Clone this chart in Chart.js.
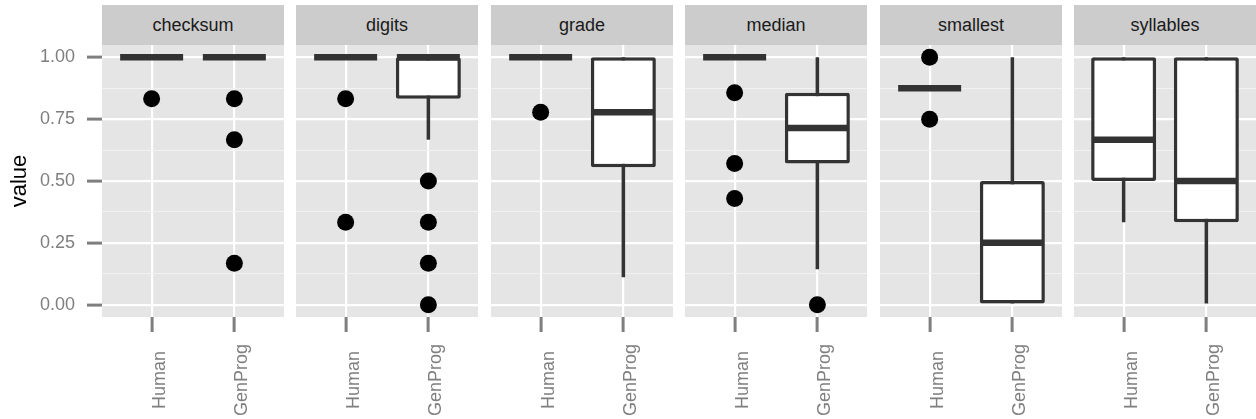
<!DOCTYPE html>
<html lang="en">
<head>
<meta charset="UTF-8">
<title>Human vs GenProg</title>
<script src="https://cdn.jsdelivr.net/npm/chart.js"></script>
<style>
  body { margin: 0; background: #ffffff; font-family: "Liberation Sans", Arial, sans-serif; }
  #fig { position: relative; width: 1256px; height: 419px; overflow: hidden; }
  .strip {
    position: absolute; top: 5px; height: 40px; line-height: 40px;
    background: #cccccc; color: #1a1a1a; font-size: 18px; text-align: center;
  }
  canvas { position: absolute; top: 45px; }
</style>
</head>
<body>
<div id="fig"></div>
<script>
// facets and groups
const panels = ['checksum', 'digits', 'grade', 'median', 'smallest', 'syllables'];
const categories = ['Human', 'GenProg'];

// box stats per facet, [Human, GenProg]
const q1 = [[1, 1], [1, 0.833], [1, 0.556], [1, 0.571], [0.875, 0], [0.5, 0.333]];
const med = [[1, 1], [1, 1], [1, 0.778], [1, 0.714], [0.875, 0.25], [0.667, 0.5]];
const q3 = [[1, 1], [1, 1], [1, 1], [1, 0.857], [0.875, 0.5], [1, 1]];
const whiskerLow = [[1, 1], [1, 0.667], [1, 0.111], [1, 0.143], [0.875, 0], [0.333, 0]];
const whiskerHigh = [[1, 1], [1, 1], [1, 1], [1, 1], [0.875, 1], [1, 1]];
const outliers = [
  [[0.833], [0.833, 0.667, 0.167]],
  [[0.833, 0.333], [0.5, 0.333, 0.167, 0]],
  [[0.778], []],
  [[0.857, 0.571, 0.429], [0]],
  [[1, 0.75], []],
  [[], []]
];

// y axis ticks
const yTicks = [0, 0.25, 0.5, 0.75, 1];
const yMinor = [0.125, 0.375, 0.625, 0.875];

// layout (pixels)
const panelLeft = [102, 296, 491, 685, 880, 1074];
const panelWidth = 182;
const axisWidth = 102;
const canvasHeight = 374;
const xAxisHeight = 102;

const fig = document.getElementById('fig');

// grey panel background
const panelBg = {
  id: 'panelBg',
  beforeDraw(chart) {
    const a = chart.chartArea;
    chart.ctx.save();
    chart.ctx.fillStyle = '#e5e5e5';
    chart.ctx.fillRect(a.left, a.top, a.right - a.left, a.bottom - a.top);
    chart.ctx.restore();
  }
};

// vertical x labels, centred under each tick like ggplot
const xLabels = {
  id: 'xLabels',
  afterDraw(chart) {
    const xs = chart.scales.x;
    const c = chart.ctx;
    categories.forEach((name, i) => {
      const px = xs.getPixelForValue(i + 1);
      c.save();
      c.translate(px + 13, xs.top + 63);
      c.rotate(-Math.PI / 2);
      c.font = '18px "Liberation Sans", Arial, sans-serif';
      c.fillStyle = '#7f7f7f';
      c.textAlign = 'center';
      c.textBaseline = 'alphabetic';
      c.fillText(name, 0, 0);
      c.restore();
    });
  }
};

function isMinor(ctx) {
  return ctx.tick && yMinor.includes(ctx.tick.value);
}

panels.forEach((name, p) => {
  const first = p === 0;

  const strip = document.createElement('div');
  strip.className = 'strip';
  strip.style.left = panelLeft[p] + 'px';
  strip.style.width = panelWidth + 'px';
  strip.textContent = name;
  fig.appendChild(strip);

  const canvas = document.createElement('canvas');
  canvas.width = panelWidth + (first ? axisWidth : 0);
  canvas.height = canvasHeight;
  canvas.style.left = (panelLeft[p] - (first ? axisWidth : 0)) + 'px';
  fig.appendChild(canvas);

  const pts = [];
  categories.forEach((c, i) => outliers[p][i].forEach(v => pts.push({ x: i + 1, y: v })));

  new Chart(canvas.getContext('2d'), {
    type: 'bar',
    data: {
      datasets: [
        {
          type: 'line',
          data: pts,
          showLine: false,
          pointRadius: 8.5,
          pointHoverRadius: 8.5,
          pointBorderWidth: 0,
          pointBackgroundColor: '#000000',
          order: 0
        },
        {
          type: 'line',
          data: categories.map((c, i) => ({ x: i + 1, y: med[p][i] })),
          showLine: false,
          pointStyle: 'line',
          pointRadius: 31.5,
          pointHoverRadius: 31.5,
          pointBorderWidth: 6.5,
          pointBorderColor: '#333333',
          order: 1
        },
        {
          data: categories.map((c, i) => ({ x: i + 1, y: [q1[p][i], q3[p][i]] })),
          backgroundColor: '#ffffff',
          borderColor: '#333333',
          borderWidth: 3.5,
          borderSkipped: false,
          borderRadius: 2,
          barThickness: 65,
          grouped: false,
          inflateAmount: 0,
          order: 2
        },
        {
          data: categories.map((c, i) => ({ x: i + 1, y: [whiskerLow[p][i], whiskerHigh[p][i]] })),
          backgroundColor: '#333333',
          borderWidth: 0,
          barThickness: 3.5,
          grouped: false,
          inflateAmount: 0,
          order: 3
        }
      ]
    },
    options: {
      responsive: false,
      animation: false,
      events: [],
      layout: { padding: 0, autoPadding: false },
      plugins: { legend: { display: false }, tooltip: { enabled: false } },
      scales: {
        x: {
          type: 'linear',
          min: 0.4,
          max: 2.6,
          offset: false,
          afterBuildTicks: s => { s.ticks = categories.map((c, i) => ({ value: i + 1 })); },
          afterFit: s => { s.height = xAxisHeight; s.paddingLeft = 0; s.paddingRight = 0; },
          border: { display: false },
          grid: {
            offset: false,
            color: '#ffffff',
            lineWidth: 2.2,
            tickColor: '#7f7f7f',
            tickWidth: 3,
            tickLength: 15
          },
          ticks: { display: false }
        },
        y: {
          min: -0.05,
          max: 1.05,
          afterBuildTicks: s => { s.ticks = yTicks.concat(yMinor).sort((a, b) => a - b).map(v => ({ value: v })); },
          afterFit: s => { s.width = first ? axisWidth : 0; s.paddingTop = 0; s.paddingBottom = 0; },
          border: { display: false },
          grid: {
            color: ctx => isMinor(ctx) ? '#f2f2f2' : '#ffffff',
            lineWidth: ctx => isMinor(ctx) ? 1.1 : 2.2,
            tickColor: ctx => isMinor(ctx) ? 'rgba(0,0,0,0)' : '#7f7f7f',
            tickWidth: 3,
            tickLength: 15,
            drawTicks: first
          },
          ticks: {
            display: first,
            padding: 12,
            color: '#7f7f7f',
            font: { family: '"Liberation Sans", Arial, sans-serif', size: 18 },
            callback: v => yTicks.includes(v) ? v.toFixed(2) : ''
          },
          title: {
            display: first,
            text: 'value',
            color: '#000000',
            font: { family: '"Liberation Sans", Arial, sans-serif', size: 22 },
            padding: { top: 7, bottom: 7 }
          }
        }
      }
    },
    plugins: [panelBg, xLabels]
  });
});
</script>
</body>
</html>
